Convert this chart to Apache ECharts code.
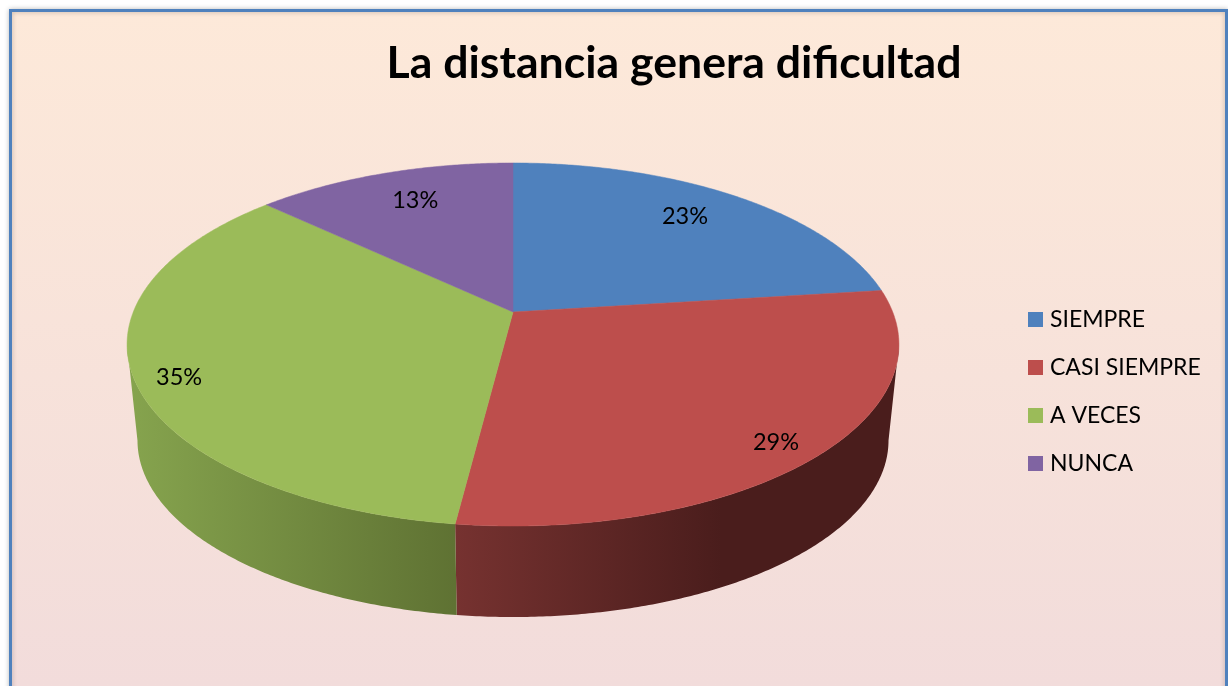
<!DOCTYPE html>
<html>
<head>
<meta charset="utf-8">
<style>
    html, body { margin: 0; padding: 0; background: #fff; }
    #main { width: 1228px; height: 686px; }
</style>
<script src="https://cdn.jsdelivr.net/npm/echarts@6/dist/echarts.min.js"></script>
</head>
<body>
<div id="main"></div>
<script>
    // valores
    let categories = ['SIEMPRE', 'CASI SIEMPRE', 'A VECES', 'NUNCA']
    let percents = [23, 29, 35, 13]

    let topColors = ['#4f81bd', '#bd4e4c', '#9bbb59', '#8064a2']
    let wallStops = [
        ['#35567e', '#35567e'],
        ['#763230', '#4a1d1c'],
        ['#86a44e', '#5f7233'],
        ['#55436c', '#55436c']
    ]
    let labelRadius = [0.786, 0.895, 0.896, 0.776]
    let labelNudge = [-1.7, 1.9, -3.3, 1.4]

    // proyeccion en perspectiva del disco (Excel 3D)
    let apexX = 513, apexY = 312
    let radiusX = 379.7, radiusY = 175.7, persp = 0.179
    let depth = 96.8, bottomScale = 0.973
    // la pared solo se ve entre las dos tangentes del disco
    let wallFrom = 100.3, wallTo = 259.7

    function project(deg, r, bottom) {
        let a = deg * Math.PI / 180
        let u = r * Math.sin(a)
        let v = r * Math.cos(a)
        let w = 1 + persp * v
        let s = bottom ? bottomScale : 1
        return [
            apexX + s * radiusX * u / w,
            apexY + (bottom ? depth : 0) - s * radiusY * v / w
        ]
    }

    function arc(from, to, bottom) {
        let pts = []
        let n = Math.ceil(to - from) * 2
        for (let i = 0; i <= n; i++) {
            pts.push(project(from + (to - from) * i / n, 1, bottom))
        }
        return pts
    }

    function renderSlice(index, value, startDeg) {
        let endDeg = startDeg + value * 3.6
        let midDeg = (startDeg + endDeg) / 2
        let topArc = arc(startDeg, endDeg, false)
        let children = []

        let wallStart = Math.max(startDeg, wallFrom)
        let wallEnd = Math.min(endDeg, wallTo)
        if (wallStart < wallEnd) {
            let wall = new echarts.graphic.LinearGradient(
                index === 1 ? 455 : 127, 0, index === 1 ? 899 : 455, 0,
                index === 1
                    ? [{ offset: 0, color: wallStops[1][0] }, { offset: 0.6, color: wallStops[1][1] }, { offset: 1, color: wallStops[1][1] }]
                    : [{ offset: 0, color: wallStops[index][0] }, { offset: 1, color: wallStops[index][1] }],
                true
            )
            children.push({
                type: 'polygon',
                z2: 1,
                shape: { points: arc(wallStart, wallEnd, false).concat(arc(wallStart, wallEnd, true).reverse()) },
                style: { fill: wall, stroke: null }
            })
        }

        children.push({
            type: 'polygon',
            z2: 2,
            shape: { points: [[apexX, apexY]].concat(topArc) },
            style: { fill: topColors[index], stroke: topColors[index], lineWidth: 0.5 }
        })

        let labelPos = project(midDeg + labelNudge[index], labelRadius[index], false)
        children.push({
            type: 'text',
            z2: 3,
            x: labelPos[0],
            y: labelPos[1],
            style: {
                text: value + '%',
                fill: '#000',
                font: '23.5px Lato',
                align: 'center',
                verticalAlign: 'middle'
            }
        })
        return { type: 'group', children: children }
    }

    let series = []
    let acum = 0
    percents.forEach((value, i) => {
        let startDeg = acum * 3.6
        acum += value
        series.push({
            type: 'custom',
            name: categories[i],
            coordinateSystem: 'none',
            silent: true,
            itemStyle: { color: topColors[i] },
            data: [[value]],
            renderItem: (params, api) => renderSlice(i, api.value(0), startDeg)
        })
    })

    let myChart = echarts.init(document.getElementById('main'), null, { renderer: 'canvas' })

    let option = {
        animation: false,
        backgroundColor: '#ffffff',
        textStyle: { fontFamily: 'Lato' },
        title: {
            text: 'La distancia genera dificultad',
            left: 669,
            top: 36,
            textAlign: 'center',
            textStyle: { fontFamily: 'Lato', fontWeight: 'bold', fontSize: 44.6, color: '#000' }
        },
        legend: {
            orient: 'vertical',
            left: 1023,
            top: 303,
            icon: 'rect',
            itemWidth: 15,
            itemHeight: 15,
            itemGap: 25,
            itemStyle: { borderWidth: 0 },
            selectedMode: false,
            textStyle: { fontFamily: 'Lato', fontSize: 23, color: '#000', padding: [0, 0, 0, 2], height: 21, lineHeight: 21 },
            data: categories
        },
        graphic: [
            {
                type: 'rect',
                z: -10,
                silent: true,
                shape: { x: 10.5, y: 10.5, width: 1216, height: 700 },
                style: {
                    fill: new echarts.graphic.LinearGradient(0, 10, 0, 686, [
                        { offset: 0, color: '#fde9d9' },
                        { offset: 1, color: '#f2dcdb' }
                    ], true),
                    stroke: '#4f81bd',
                    lineWidth: 3,
                    shadowBlur: 5,
                    shadowColor: 'rgba(0,0,0,0.25)'
                }
            }
        ],
        series: series
    }
    myChart.setOption(option)
</script>
</body>
</html>
